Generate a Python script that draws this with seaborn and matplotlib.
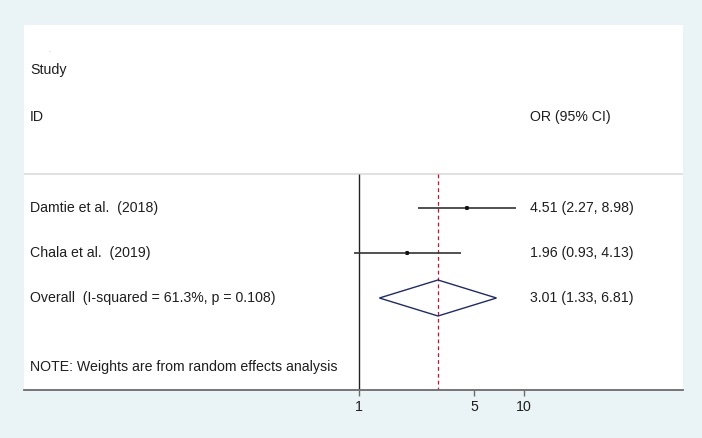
import numpy as np
import pandas as pd
import seaborn as sns
import matplotlib.pyplot as plt
from matplotlib.patches import Polygon

# study data
studies = ["Damtie et al.  (2018)", "Chala et al.  (2019)"]
or_vals = [4.51, 1.96]
ci_low = [2.27, 0.93]
ci_high = [8.98, 4.13]

# pooled estimate
overall_label = "Overall  (I-squared = 61.3%, p = 0.108)"
overall_or = 3.01
overall_low = 1.33
overall_high = 6.81

tick_vals = [1, 5, 10]
tick_labels = ["1", "5", "10"]
note = "NOTE: Weights are from random effects analysis"

sns.set_theme(style="white")
plt.rcParams['font.family'] = ['Liberation Sans', 'DejaVu Sans']

bg = "#eaf3f6"
txt = "#1e1e1e"

fig = plt.figure(figsize=(7.02, 4.38), dpi=100, facecolor=bg)
ax = fig.add_axes([24 / 702, 48 / 438, 659 / 702, 365 / 438])
ax.set_facecolor("white")

# y in "pixel rows" from top of the white panel (layout only)
ax.set_ylim(390, 25)
ax.set_xscale("log")
ax.set_xlim(10 ** (-335 / 165), 10 ** (324 / 165))

row_y = [208, 253]
overall_y = 298
sep_y = 174
left_x = 10 ** (-329 / 165)   # text column positions in axis units
right_x = 10 ** (171 / 165)

df = pd.DataFrame({"study": studies, "or": or_vals, "lo": ci_low, "hi": ci_high, "y": row_y})

# header separator and reference lines
ax.axhline(sep_y, color="#dcdcdc", lw=1.2)
ax.vlines(1, sep_y, 390, color="#222222", lw=1.0)
ax.vlines(overall_or, sep_y, 390, color="#c8102e", lw=0.9, linestyles=(0, (3, 2.5)))

# CIs and point estimates
ax.hlines(df["y"], df["lo"], df["hi"], color="#333333", lw=1.2)
sns.scatterplot(data=df, x="or", y="y", ax=ax, marker="s", s=10, color="#b0b0b0",
                edgecolor="none", legend=False, zorder=3)
sns.scatterplot(data=df, x="or", y="y", ax=ax, marker="o", s=9, color="#111111",
                edgecolor="none", legend=False, zorder=4)

# pooled diamond
diamond = Polygon([(overall_low, overall_y), (overall_or, overall_y - 18),
                   (overall_high, overall_y), (overall_or, overall_y + 18)],
                  closed=True, fill=False, edgecolor="#1f2a6e", lw=1.0, zorder=3)
ax.add_patch(diamond)

# text columns
fs = 10.2
ax.text(left_x * 1.3, 50, ".", color="#999999", fontsize=5, va="center")
ax.text(left_x, 70, "Study", color=txt, fontsize=fs, va="center")
ax.text(left_x, 117, "ID", color=txt, fontsize=fs, va="center")
ax.text(right_x, 117, "OR (95% CI)", color=txt, fontsize=fs, va="center")
for i in range(len(studies)):
    ax.text(left_x, row_y[i], studies[i], color=txt, fontsize=fs, va="center")
    ax.text(right_x, row_y[i], f"{or_vals[i]:.2f} ({ci_low[i]:.2f}, {ci_high[i]:.2f})",
            color=txt, fontsize=fs, va="center")
ax.text(left_x, overall_y, overall_label, color=txt, fontsize=fs, va="center")
ax.text(right_x, overall_y, f"{overall_or:.2f} ({overall_low:.2f}, {overall_high:.2f})",
        color=txt, fontsize=fs, va="center")
ax.text(left_x, 367, note, color=txt, fontsize=fs, va="center")

# axes styling
for s in ["top", "left", "right"]:
    ax.spines[s].set_visible(False)
ax.spines["bottom"].set_color("#6b6b6b")
ax.spines["bottom"].set_linewidth(1.3)
ax.set_yticks([])
ax.set_xticks(tick_vals)
ax.set_xticklabels(tick_labels)
ax.xaxis.set_minor_locator(plt.NullLocator())
ax.tick_params(axis="x", bottom=True, direction="out", length=4, width=1,
               color="#6b6b6b", labelsize=fs, labelcolor=txt, pad=3)
ax.set_xlabel("")
ax.set_ylabel("")

fig.savefig("out.png", dpi=100, facecolor=bg)
